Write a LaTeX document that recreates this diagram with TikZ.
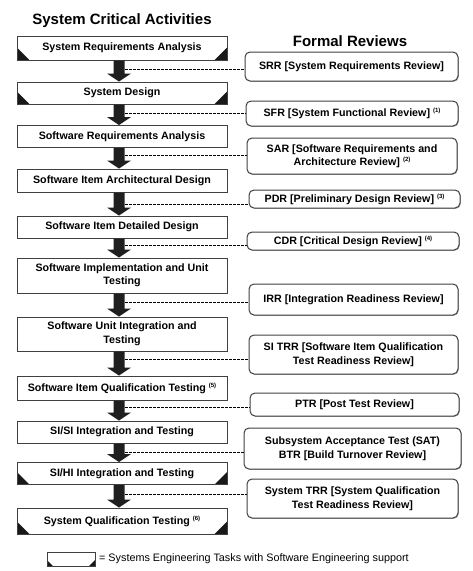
\documentclass[tikz,border=0pt]{standalone}
\usepackage{fontspec}
\setmainfont{Liberation Sans}
\usetikzlibrary{shadows}
\newcommand{\sups}[1]{\raisebox{4pt}{\fontsize{6}{6}\selectfont(#1)}}
\newcommand{\blk}[2]{\fill[black!88] ([xshift=-8.5pt]#1.south) -- ([xshift=2.5pt]#1.south) -- ([xshift=2.5pt,yshift=8pt]#2.north) -- ([xshift=9pt,yshift=8pt]#2.north) -- ([xshift=-3pt]#2.north) -- ([xshift=-15pt,yshift=8pt]#2.north) -- ([xshift=-8.5pt,yshift=8pt]#2.north) -- cycle;}
\begin{document}
\begin{tikzpicture}[x=1pt,y=-1pt,
  font=\fontsize{10.7}{13.5}\selectfont\bfseries,
  shd/.style={general shadow={fill=black!30, shadow xshift=0.8pt, shadow yshift=-0.8pt}},
  lbox/.style={draw=black!75, line width=1pt, fill=white, minimum width=210pt, inner sep=0pt, align=center, shd},
  rbox/.style={draw=black!75, line width=1pt, fill=white, rounded corners=5pt, inner sep=0pt, align=center, shd},
  corners/.style={path picture={
    \fill[black!90] (path picture bounding box.south west) -- ++(0pt,#1) -- ++(#1,-#1) -- cycle;
    \fill[black!90] (path picture bounding box.south east) -- ++(0pt,#1) -- ++(-#1,-#1) -- cycle;}},
  dsh/.style={draw=black, line width=0.9pt, dash pattern=on 2.5pt off 1.5pt},
  ttl/.style={font=\fontsize{15}{18}\selectfont\bfseries}
]
\useasboundingbox (0,0) rectangle (472,571);

\node[ttl] (t1) at (122,21) {System Critical Activities};
\node[ttl] (t2) at (350,41) {Formal Reviews};

% left column
\node[lbox, minimum height=24pt, corners=12.5pt] (n1) at (122,48) {System Requirements Analysis};
\node[lbox, minimum height=22pt, corners=12.5pt] (n2) at (122,93) {System Design};
\node[lbox, minimum height=22pt] (n3) at (122,136.5) {Software Requirements Analysis};
\node[lbox, minimum height=23pt] (n4) at (122,180.5) {Software Item Architectural Design};
\node[lbox, minimum height=22pt] (n5) at (122,227) {Software Item Detailed Design};
\node[lbox, minimum height=35pt] (n6) at (122,275.5) {Software Implementation and Unit\\Testing};
\node[lbox, minimum height=34pt] (n7) at (122,334) {Software Unit Integration and\\Testing};
\node[lbox, minimum height=24pt] (n8) at (122,388) {Software Item Qualification Testing \sups{5}};
\node[lbox, minimum height=22pt] (n9) at (122,432) {SI/SI Integration and Testing};
\node[lbox, minimum height=22pt, corners=12.5pt] (n10) at (122,473.5) {SI/HI Integration and Testing};
\node[lbox, minimum height=26pt, corners=12.5pt] (n11) at (122,521) {System Qualification Testing \sups{6}};

% block arrows
\blk{n1}{n2}
\blk{n2}{n3}
\blk{n3}{n4}
\blk{n4}{n5}
\blk{n5}{n6}
\blk{n6}{n7}
\blk{n7}{n8}
\blk{n8}{n9}
\blk{n9}{n10}
\blk{n10}{n11}

% right column
\node[rbox, minimum width=213pt, minimum height=29pt] (srr) at (351.5,66.5) {SRR [System Requirements Review]};
\node[rbox, minimum width=212pt, minimum height=25pt] (sfr) at (352,113.5) {SFR [System Functional Review] \sups{1}};
\node[rbox, minimum width=210pt, minimum height=36pt] (sar) at (352,156) {SAR [Software Requirements and\\Architecture Review] \sups{2}};
\node[rbox, minimum width=211pt, minimum height=18pt] (pdr) at (354.5,199) {PDR [Preliminary Design Review] \sups{3}};
\node[rbox, minimum width=212pt, minimum height=18pt] (cdr) at (353,241) {CDR [Critical Design Review] \sups{4}};
\node[rbox, minimum width=209pt, minimum height=31pt] (irr) at (353.5,299.5) {IRR [Integration Readiness Review]};
\node[rbox, minimum width=209pt, minimum height=39pt] (sitrr) at (353.5,354.5) {SI TRR [Software Item Qualification\\Test Readiness Review]};
\node[rbox, minimum width=209pt, minimum height=23pt] (ptr) at (354.5,404.5) {PTR [Post Test Review]};
\node[rbox, minimum width=217pt, minimum height=41pt] (sat) at (352.5,448.5) {Subsystem Acceptance Test (SAT)\\BTR [Build Turnover Review]};
\node[rbox, minimum width=211pt, minimum height=39pt] (systrr) at (352.5,498.5) {System TRR [System Qualification\\Test Readiness Review]};

% dashed connectors
\coordinate (d1) at (125,69);
\coordinate (d2) at (125,113);
\coordinate (d3) at (125,155.5);
\coordinate (d4) at (125,204);
\coordinate (d5) at (125,245);
\coordinate (d6) at (125,302);
\coordinate (d7) at (125,359);
\coordinate (d8) at (125,407);
\coordinate (d9) at (125,452);
\coordinate (d10) at (125,494);
\draw[dsh] (d1) -- (d1 -| srr.west);
\draw[dsh] (d2) -- (d2 -| sfr.west);
\draw[dsh] (d3) -- (d3 -| sar.west);
\draw[dsh] (d4) -- (d4 -| pdr.west);
\draw[dsh] (d5) -- (d5 -| cdr.west);
\draw[dsh] (d6) -- (d6 -| irr.west);
\draw[dsh] (d7) -- (d7 -| sitrr.west);
\draw[dsh] (d8) -- (d8 -| ptr.west);
\draw[dsh] (d9) -- (d9 -| sat.west);
\draw[dsh] (d10) -- (d10 -| systrr.west);

% legend
\node[draw=black!75, line width=1pt, fill=white, minimum width=48pt, minimum height=14pt, inner sep=0pt, corners=6pt] (leg) at (71,559) {};
\node[anchor=west, inner sep=0pt, font=\fontsize{10.8}{13}\selectfont] (legt) at (99,559) {= Systems Engineering Tasks with Software Engineering support};
\end{tikzpicture}
\end{document}
